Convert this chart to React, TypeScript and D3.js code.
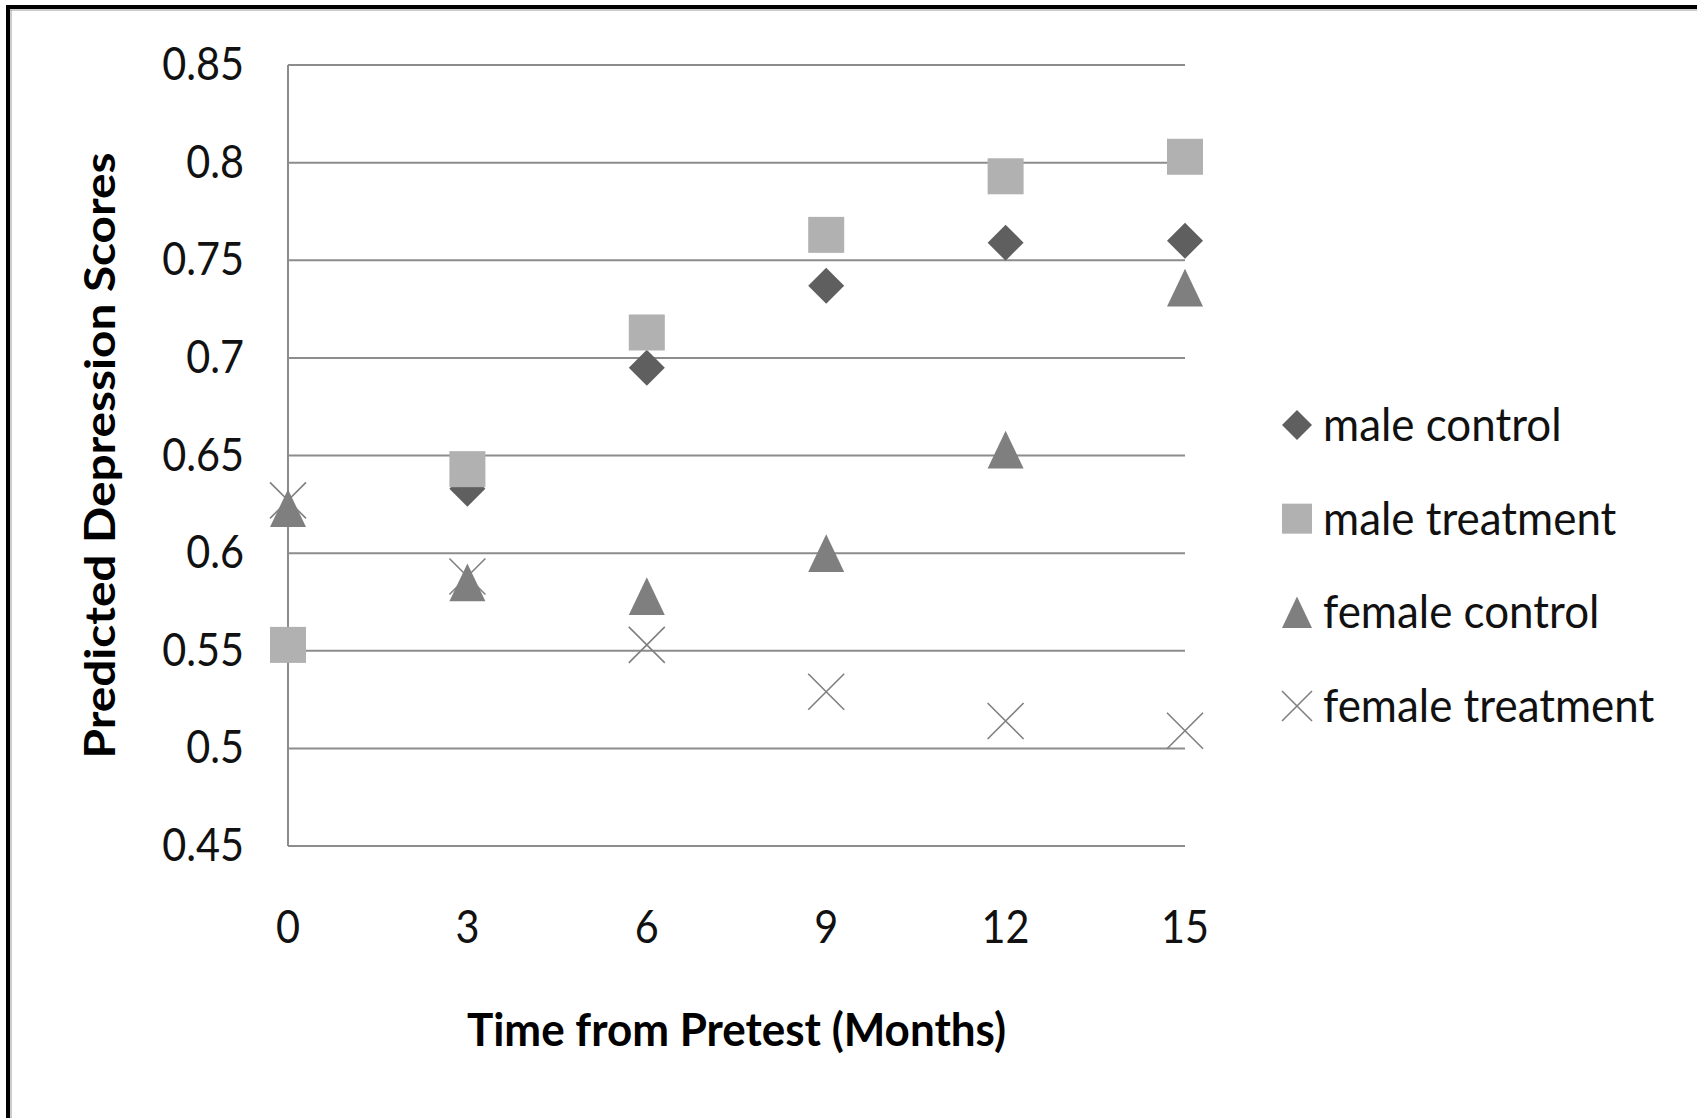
import * as d3 from "d3"

// months from pretest
const months = [0, 3, 6, 9, 12, 15]
const yTicks = [0.45, 0.5, 0.55, 0.6, 0.65, 0.7, 0.75, 0.8, 0.85]

// predicted depression scores
const maleControl = [0.553, 0.633, 0.695, 0.737, 0.759, 0.760]
const maleTreatment = [0.553, 0.643, 0.713, 0.763, 0.793, 0.803]
const femaleControl = [0.623, 0.585, 0.578, 0.600, 0.653, 0.736]
const femaleTreatment = [0.627, 0.588, 0.553, 0.529, 0.514, 0.509]

const seriesNames = ["male control", "male treatment", "female control", "female treatment"]

const W = 1697
const H = 1118
const FONT = "Lato, 'Open Sans', sans-serif"

// marker drawing, s = full width of the marker
function Marker({ kind, cx, cy, s }: { kind: string; cx: number; cy: number; s: number }) {
  const h = s / 2
  if (kind === "male control") {
    return <path d={`M${cx},${cy - h}L${cx + h},${cy}L${cx},${cy + h}L${cx - h},${cy}Z`} fill="#5f5f5f" />
  }
  if (kind === "male treatment") {
    return <rect x={cx - h} y={cy - h} width={s} height={s} fill="#b1b1b1" />
  }
  if (kind === "female control") {
    const th = s * 1.05 / 2
    return <path d={`M${cx},${cy - th}L${cx + h},${cy + th}L${cx - h},${cy + th}Z`} fill="#7f7f7f" />
  }
  return (
    <path
      d={`M${cx - h},${cy - h}L${cx + h},${cy + h}M${cx + h},${cy - h}L${cx - h},${cy + h}`}
      stroke="#808080"
      strokeWidth={1.6}
      fill="none"
    />
  )
}

export default function App() {
  const x = d3.scaleLinear().domain([0, 15]).range([288, 1185])
  const y = d3.scaleLinear().domain([0.45, 0.85]).range([846, 65])

  const allSeries = [maleControl, maleTreatment, femaleControl, femaleTreatment]
  const yFmt = (v: number) => d3.format("")(+v.toFixed(2))

  const legendX = 1297
  const legendTextX = 1323
  const legendScale = 0.955
  const legendY = d3.scalePoint<string>().domain(seriesNames).range([425, 706])

  return (
    <svg
      width={W}
      height={H}
      style={{ position: "absolute", left: 0, top: 0, background: "#fff" }}
    >
      {/* frame (top and left only) */}
      <line x1={6} x2={W} y1={7} y2={7} stroke="#000" strokeWidth={4} />
      <line x1={8} x2={W} y1={10} y2={10} stroke="#9a9a9a" strokeWidth={1} />
      <line x1={8} x2={8} y1={5} y2={H} stroke="#000" strokeWidth={4} />
      <line x1={11} x2={11} y1={10} y2={H} stroke="#9a9a9a" strokeWidth={1} />

      {/* gridlines */}
      {yTicks.map(t => (
        <line key={t} x1={x(0)} x2={x(15)} y1={y(t)} y2={y(t)} stroke="#8c8c8c" strokeWidth={2} />
      ))}
      <line x1={x(0)} x2={x(0)} y1={y(0.85)} y2={y(0.45)} stroke="#8c8c8c" strokeWidth={2} />

      {/* y tick labels */}
      {yTicks.map(t => (
        <text
          key={t}
          transform={`translate(244,${y(t) + 15}) scale(0.9,1)`}
          textAnchor="end"
          fontFamily={FONT}
          fontSize={46}
          fill="#111"
        >
          {yFmt(t)}
        </text>
      ))}

      {/* x tick labels */}
      {months.map(m => (
        <text
          key={m}
          transform={`translate(${x(m)},943) scale(0.9,1)`}
          textAnchor="middle"
          fontFamily={FONT}
          fontSize={46}
          fill="#111"
        >
          {m}
        </text>
      ))}

      {/* axis titles */}
      <text
        transform={`translate(${(x(0) + x(15)) / 2},1046)`}
        textAnchor="middle"
        fontFamily={FONT}
        fontWeight="bold"
        fontSize={45}
        textLength={539}
        lengthAdjust="spacingAndGlyphs"
        fill="#000"
      >
        Time from Pretest (Months)
      </text>
      <text
        transform={`translate(115,${(y(0.45) + y(0.85)) / 2}) rotate(-90)`}
        textAnchor="middle"
        fontFamily={FONT}
        fontWeight="bold"
        fontSize={42}
        textLength={606}
        lengthAdjust="spacingAndGlyphs"
        fill="#000"
      >
        Predicted Depression Scores
      </text>

      {/* data markers */}
      {allSeries.map((vals, si) => (
        <g key={seriesNames[si]}>
          {vals.map((v, i) => (
            <Marker key={i} kind={seriesNames[si]} cx={x(months[i])} cy={y(v)} s={36} />
          ))}
        </g>
      ))}

      {/* legend */}
      {seriesNames.map(n => (
        <g key={n}>
          <Marker kind={n} cx={legendX} cy={legendY(n) as number} s={30} />
          <text
            transform={`translate(${legendTextX},${(legendY(n) as number) + 16}) scale(${legendScale},1)`}
            fontFamily={FONT}
            fontSize={46}
            fill="#111"
          >
            {n}
          </text>
        </g>
      ))}
    </svg>
  )
}
